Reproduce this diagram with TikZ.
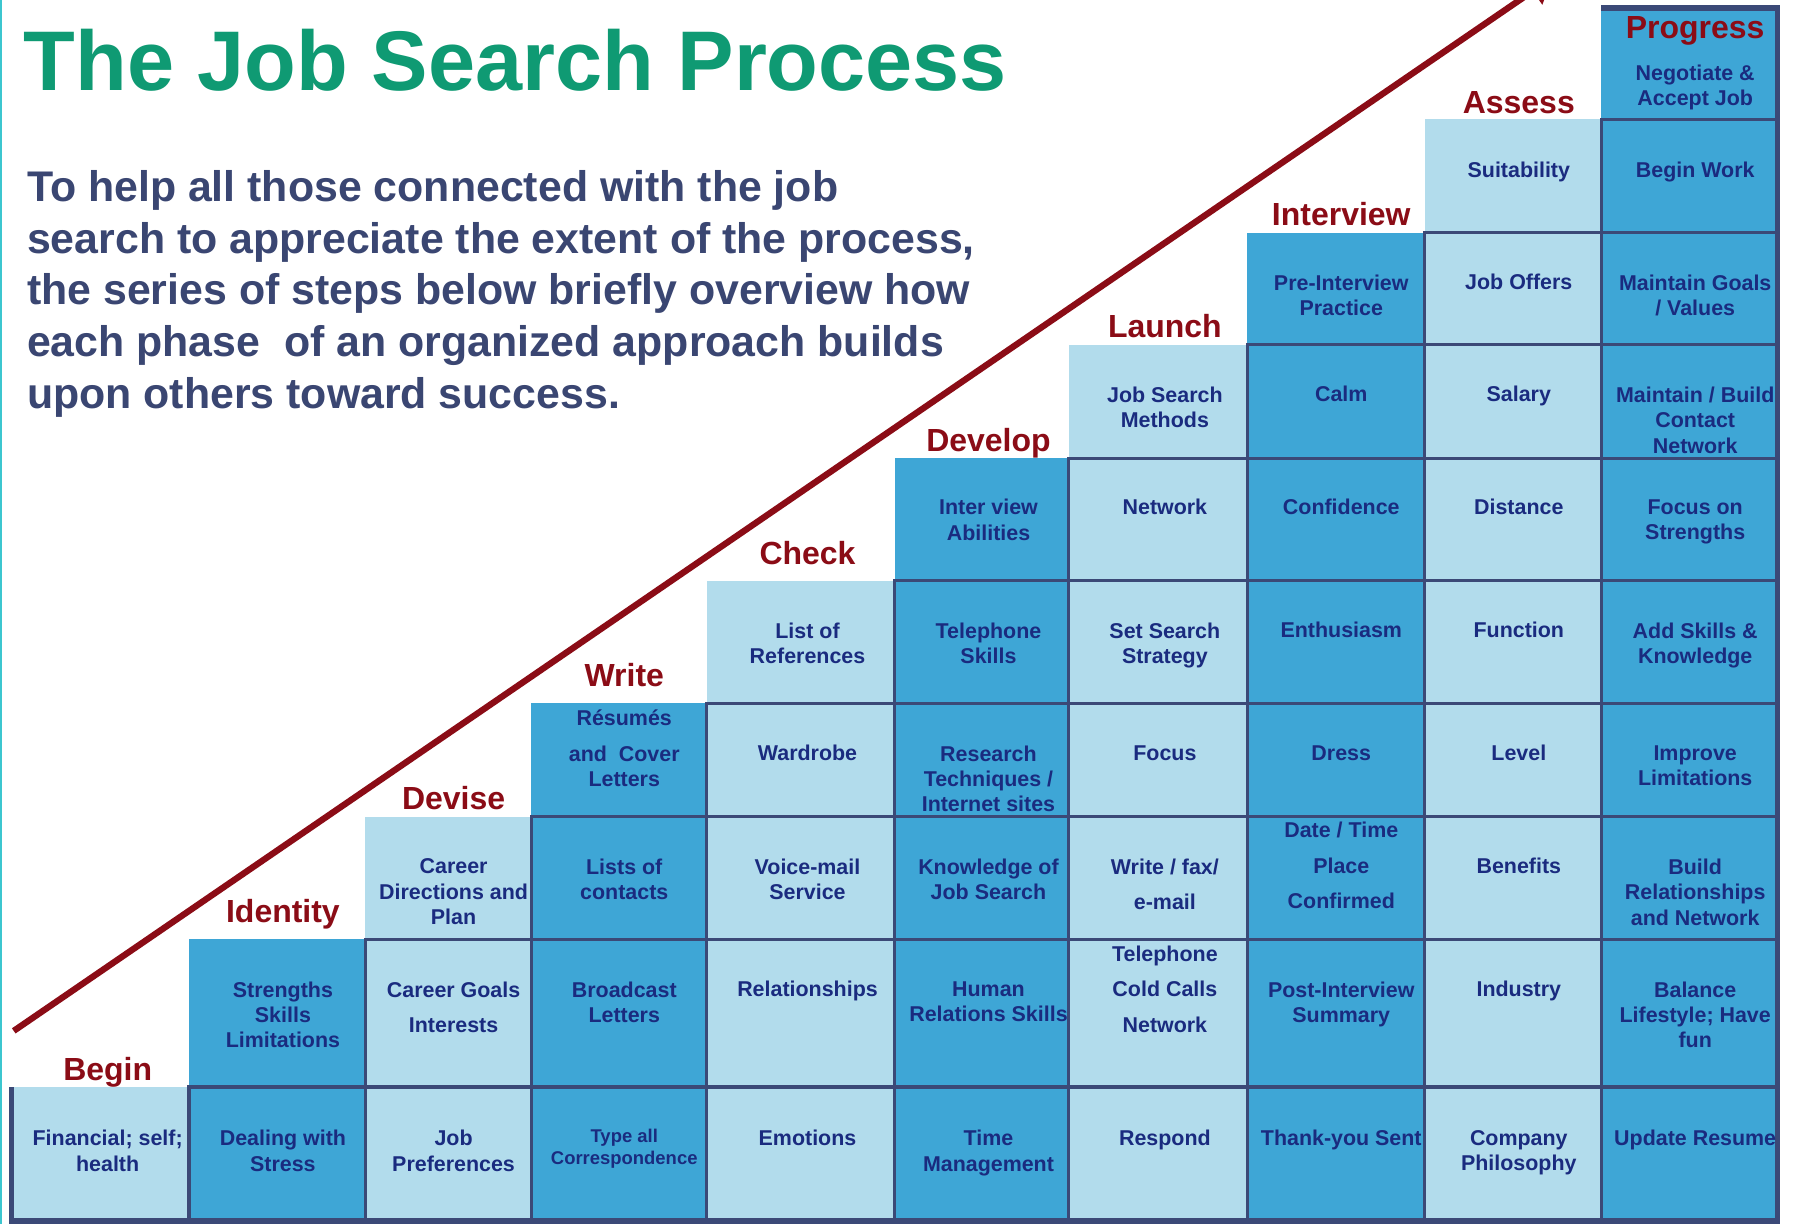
\documentclass[tikz,border=0pt]{standalone}
\usepackage{fontspec}
\setmainfont{Liberation Sans}
\usetikzlibrary{arrows.meta}
\definecolor{StepDark}{HTML}{3EA6D6}
\definecolor{StepLight}{HTML}{B2DCEC}
\definecolor{GridInk}{HTML}{3B4977}
\definecolor{CellInk}{HTML}{1A2B7F}
\definecolor{PhaseRed}{HTML}{8B0C16}
\definecolor{TitleGreen}{HTML}{0F9A73}
\definecolor{IntroSlate}{HTML}{3A4672}
\definecolor{EdgeTeal}{HTML}{3CC6CF}
\tikzset{
    gridline/.style={draw=GridInk, line width=0.9pt},
    frameline/.style={draw=GridInk, line width=1.5pt},
    cellbase/.style={
        anchor=north, align=center, inner sep=0pt,
        font=\fontsize{6.1pt}{7.2pt}\selectfont\bfseries, text=CellInk,
        execute at begin node={\rule{0pt}{0.95em}}
    },
    celltext/.style={cellbase, yshift=2.2pt},
    wordtext/.style={cellbase, yshift=3.8pt},
    smalltext/.style={
        cellbase, yshift=1.9pt,
        font=\fontsize{5.25pt}{6.2pt}\selectfont\bfseries
    },
    phase/.style={
        anchor=base, inner sep=0pt, text=PhaseRed,
        font=\fontsize{9.1pt}{11pt}\selectfont\bfseries
    },
    intro/.style={
        anchor=north west, align=left, inner sep=0pt, text=IntroSlate,
        font=\fontsize{12.2pt}{14.67pt}\selectfont\bfseries,
        execute at begin node={\rule{0pt}{0.95em}}
    },
    trend/.style={-{Triangle[length=7pt, width=9pt]}, line width=1.8pt, draw=PhaseRed},
}

\begin{document}
\begin{tikzpicture}[x=0.011454cm, y=-0.011454cm]
    \useasboundingbox (0,0) rectangle (1568,1068.6);
    \fill[white] (0,0) rectangle (1568,1068.6);
    \draw[EdgeTeal, line width=0.6pt] (0.8,0) -- (0.8,1068.6);

    % Step columns
    \foreach \xa/\xb/\ytop/\shade in {10/165/949/StepLight, 165/319/820/StepDark,
        319/464/713/StepLight, 464/617/614/StepDark, 617/781/507/StepLight,
        781/933/400/StepDark, 933/1089/301/StepLight, 1089/1244/203/StepDark,
        1244/1398/104/StepLight, 1398/1552/7/StepDark}
        \fill[\shade] (\xa,\ytop) rectangle (\xb,1066);

    % Grid: each corner starts a row line and a column line
    \foreach \x/\y in {165/949, 319/820, 464/713, 617/614, 781/507,
        933/400, 1089/301, 1244/203, 1398/104}
        \draw[gridline] (1552,\y) -- (\x,\y) -- (\x,1066);
    \draw[frameline] (10,949) |- (1552,1066) |- (1398,7);

    % Rising arrow
    \coordinate (rise start) at (12,900);
    \coordinate (rise end) at (1356,-20);
    \draw[trend] (rise start) -- (rise end);

    % Heading
    \node[anchor=base west, inner sep=0pt, text=TitleGreen,
          font=\fontsize{24.1pt}{28pt}\selectfont\bfseries] (title) at (20,79)
          {The Job Search Process};
    \node[intro] (intro) at (23,148.5)
          {To help all those connected with the job\\
           search to appreciate the extent of the process,\\
           the series of steps below briefly overview how\\
           each phase\ \ of an organized approach builds\\
           upon others toward success.};

    % Phase labels
    \node[phase] (begin)     at (94,943)   {Begin};
    \node[phase] (identity)  at (247,805)  {Identity};
    \node[phase] (devise)    at (396,707)  {Devise};
    \node[phase] (write)     at (545,599)  {Write};
    \node[phase] (check)     at (705,493)  {Check};
    \node[phase] (develop)   at (863,394)  {Develop};
    \node[phase] (launch)    at (1017,295) {Launch};
    \node[phase] (interview) at (1171,197) {Interview};
    \node[phase] (assess)    at (1326,99)  {Assess};
    \node[phase] (progress)  at (1480,34)  {Progress};

    % Begin
    \node[celltext] (begin0) at (94,993) {Financial; self;\\health};
    % Identity
    \node[celltext] (identity0) at (247,993) {Dealing with\\Stress};
    \node[celltext] (identity1) at (247,863) {Strengths\\Skills\\Limitations};
    % Devise
    \node[celltext] (devise0) at (396,993) {Job\\Preferences};
    \node[celltext] (devise1) at (396,863) {Career Goals\\[2.9pt]Interests};
    \node[celltext] (devise2) at (396,756) {Career\\Directions and\\Plan};
    % Write
    \node[smalltext] (write0) at (545,991) {Type all\\Correspondence};
    \node[celltext] (write1) at (545,863) {Broadcast\\Letters};
    \node[celltext] (write2) at (545,756) {Lists of\\contacts};
    \node[celltext] (write3) at (545,626) {Résumés\\[2.9pt]and\ \ Cover\\Letters};
    % Check
    \node[wordtext] (check0) at (705,993) {Emotions};
    \node[wordtext] (check1) at (705,863) {Relationships};
    \node[celltext] (check2) at (705,756) {Voice-mail\\Service};
    \node[wordtext] (check3) at (705,657) {Wardrobe};
    \node[celltext] (check4) at (705,550) {List of\\References};
    % Develop
    \node[celltext] (develop0) at (863,993) {Time\\Management};
    \node[celltext] (develop1) at (863,863) {Human\\Relations Skills};
    \node[celltext] (develop2) at (863,756) {Knowledge of\\Job Search};
    \node[celltext] (develop3) at (863,657) {Research\\Techniques /\\Internet sites};
    \node[celltext] (develop4) at (863,550) {Telephone\\Skills};
    \node[celltext] (develop5) at (863,442) {Inter view\\Abilities};
    % Launch
    \node[wordtext] (launch0) at (1017,993) {Respond};
    \node[celltext] (launch1) at (1017,832) {Telephone\\[2.9pt]Cold Calls\\[2.9pt]Network};
    \node[celltext] (launch2) at (1017,756) {Write / fax/\\[2.9pt]e-mail};
    \node[wordtext] (launch3) at (1017,657) {Focus};
    \node[celltext] (launch4) at (1017,550) {Set Search\\Strategy};
    \node[wordtext] (launch5) at (1017,442) {Network};
    \node[celltext] (launch6) at (1017,344) {Job Search\\Methods};
    % Interview
    \node[wordtext] (interview0) at (1171,993) {Thank-you Sent};
    \node[celltext] (interview1) at (1171,863) {Post-Interview\\Summary};
    \node[celltext] (interview2) at (1171,724) {Date / Time\\[2.9pt]Place\\[2.9pt]Confirmed};
    \node[wordtext] (interview3) at (1171,657) {Dress};
    \node[wordtext] (interview4) at (1171,550) {Enthusiasm};
    \node[wordtext] (interview5) at (1171,442) {Confidence};
    \node[wordtext] (interview6) at (1171,344) {Calm};
    \node[celltext] (interview7) at (1171,246) {Pre-Interview\\Practice};
    % Assess
    \node[celltext] (assess0) at (1326,993) {Company\\Philosophy};
    \node[wordtext] (assess1) at (1326,863) {Industry};
    \node[wordtext] (assess2) at (1326,756) {Benefits};
    \node[wordtext] (assess3) at (1326,657) {Level};
    \node[wordtext] (assess4) at (1326,550) {Function};
    \node[wordtext] (assess5) at (1326,442) {Distance};
    \node[wordtext] (assess6) at (1326,344) {Salary};
    \node[wordtext] (assess7) at (1326,246) {Job Offers};
    \node[wordtext] (assess8) at (1326,148) {Suitability};
    % Progress
    \node[wordtext] (progress0) at (1480,993) {Update Resume};
    \node[celltext] (progress1) at (1480,863) {Balance\\Lifestyle; Have\\fun};
    \node[celltext] (progress2) at (1480,756) {Build\\Relationships\\and Network};
    \node[celltext] (progress3) at (1480,657) {Improve\\Limitations};
    \node[celltext] (progress4) at (1480,550) {Add Skills \&\\Knowledge};
    \node[celltext] (progress5) at (1480,442) {Focus on\\Strengths};
    \node[celltext] (progress6) at (1480,344) {Maintain / Build\\Contact\\Network};
    \node[celltext] (progress7) at (1480,246) {Maintain Goals\\/ Values};
    \node[wordtext] (progress8) at (1480,148) {Begin Work};
    \node[celltext] (progress9) at (1480,63)  {Negotiate \&\\Accept Job};
\end{tikzpicture}
\end{document}
